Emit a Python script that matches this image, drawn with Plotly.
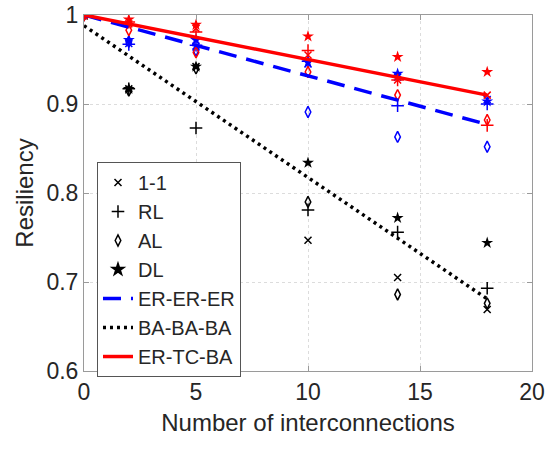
import plotly.graph_objects as go

# ---------------- data ----------------
x_vals = [0, 2, 5, 10, 14, 18]

# ER-ER-ER (blue)
er_11 = [1.0, 0.968, 0.965, 0.945, 0.930, 0.905]
er_rl = [1.0, 0.967, 0.966, 0.948, 0.898, 0.900]
er_al = [1.0, 0.970, 0.960, 0.891, 0.863, 0.852]
er_dl = [1.0, 0.972, 0.972, 0.947, 0.934, 0.903]

# BA-BA-BA (black)
ba_11 = [1.0, 0.917, 0.942, 0.747, 0.705, 0.669]
ba_rl = [1.0, 0.917, 0.873, 0.781, 0.756, 0.693]
ba_al = [1.0, 0.915, 0.940, 0.790, 0.686, 0.676]
ba_dl = [1.0, 0.917, 0.942, 0.834, 0.772, 0.744]

# ER-TC-BA (red)
tc_11 = [1.0, 0.990, 0.985, 0.955, 0.927, 0.910]
tc_rl = [1.0, 0.992, 0.981, 0.960, 0.927, 0.876]
tc_al = [1.0, 0.983, 0.958, 0.936, 0.910, 0.882]
tc_dl = [1.0, 0.995, 0.989, 0.976, 0.953, 0.936]

# fitted lines
fit_x = [0, 18]
er_fit = [1.0, 0.877]
ba_fit = [0.988, 0.681]
tc_fit = [1.0, 0.910]

marker_names = ["1-1", "RL", "AL", "DL"]
line_names = ["ER-ER-ER", "BA-BA-BA", "ER-TC-BA"]
x_ticks = [0, 5, 10, 15, 20]
y_ticks = [0.6, 0.7, 0.8, 0.9, 1.0]
y_tick_text = ["0.6", "0.7", "0.8", "0.9", "1"]

# ---------------- figure ----------------
symbols = ["x-thin-open", "cross-thin-open", "diamond-tall-open", "star"]
sizes = [7, 9, 8, 9]

fig = go.Figure()

# legend-only marker entries (black)
for name, sym, sz in zip(marker_names, symbols, sizes):
    fig.add_trace(go.Scatter(
        x=[None], y=[None], mode="markers", name=name,
        marker=dict(symbol=sym, size=sz, color="black",
                    line=dict(color="black", width=1.5)),
    ))

groups = [
    ("blue", [er_11, er_rl, er_al, er_dl]),
    ("black", [ba_11, ba_rl, ba_al, ba_dl]),
    ("red", [tc_11, tc_rl, tc_al, tc_dl]),
]
for color, series in groups:
    for ys, sym, sz in zip(series, symbols, sizes):
        fig.add_trace(go.Scatter(
            x=x_vals, y=ys, mode="markers", showlegend=False,
            marker=dict(symbol=sym, size=sz, color=color,
                        line=dict(color=color, width=1.5 if "open" in sym else 0)),
            hoverinfo="skip",
        ))

fig.add_trace(go.Scatter(x=fit_x, y=er_fit, mode="lines", name=line_names[0],
                         line=dict(color="blue", width=3.5, dash="18px,10px")))
fig.add_trace(go.Scatter(x=fit_x, y=ba_fit, mode="lines", name=line_names[1],
                         line=dict(color="black", width=3.5, dash="3px,4px")))
fig.add_trace(go.Scatter(x=fit_x, y=tc_fit, mode="lines", name=line_names[2],
                         line=dict(color="red", width=3.5)))

axis_common = dict(
    showline=True, linecolor="#9a9a9a", linewidth=1, mirror="ticks",
    ticks="inside", ticklen=5, tickcolor="#9a9a9a",
    showgrid=True, gridcolor="#dcdcdc", griddash="dot", gridwidth=1,
    zeroline=False, automargin=False, ticklabeloverflow="allow",
    tickfont=dict(family="Liberation Sans, Arial", size=23, color="#262626"),
)

fig.update_layout(
    width=548, height=450,
    margin=dict(l=84, r=16, t=15, b=79),
    paper_bgcolor="white", plot_bgcolor="white",
    font=dict(family="Liberation Sans, Arial", color="#262626"),
    xaxis=dict(range=[0, 20], tickvals=x_ticks,
               title=dict(text="Number of interconnections",
                          font=dict(size=24, color="#262626"), standoff=10),
               **axis_common),
    yaxis=dict(range=[0.6, 1.0], tickvals=y_ticks, ticktext=y_tick_text,
               title=dict(text="Resiliency",
                          font=dict(size=24, color="#262626"), standoff=6),
               **axis_common),
    legend=dict(x=0.029, y=0.587, xanchor="left", yanchor="top",
                bgcolor="white", bordercolor="#555555", borderwidth=1,
                font=dict(size=20, color="#262626"), tracegroupgap=0,
                itemwidth=30),
    showlegend=True,
)

# remove the default 8px page margin so the 548x450 figure fills the window
fig.write_html("out.html",
               config={"displayModeBar": False},
               post_script="document.body.style.margin='0';"
                           "document.body.style.overflow='hidden';")
